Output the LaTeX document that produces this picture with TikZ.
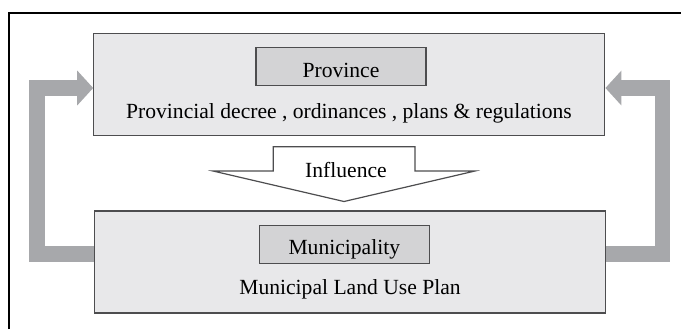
\documentclass[tikz,border=0pt]{standalone}
\usepackage{fontspec}
\setmainfont{Liberation Serif}
\usetikzlibrary{arrows.meta}
\definecolor{boxfill}{HTML}{E8E8EA}
\definecolor{tagfill}{HTML}{D3D3D5}
\definecolor{boxline}{HTML}{4D4D4F}
\definecolor{loopgray}{HTML}{A7A8AB}
\begin{document}
\begin{tikzpicture}[x=0.5pt,y=-0.5pt,
 font=\fontsize{10.8}{12}\selectfont,
 level/.style={draw=boxline, fill=boxfill, line width=0.6pt, minimum width=255.5pt, minimum height=51pt, inner sep=0pt},
 tag/.style={draw=boxline, fill=tagfill, line width=0.6pt, minimum width=85pt, minimum height=19pt, inner sep=0pt, text height=12pt, text depth=1.4pt},
 feedback/.style={draw=loopgray, line width=7.75pt, -{Triangle[length=8pt,width=17pt]}}]
\useasboundingbox (0,0) rectangle (681,329);
\draw[line width=1pt] (8.5,329) -- (8.5,12.5) -- (681,12.5);
\node[level] (prov) at (349.3,84.8) {};
\node[tag] (provtag) at (341,66.7) {Province};
\node[anchor=base] (provtext) at (349,118) {Provincial decree , ordinances , plans \& regulations};
\node[level] (muni) at (349.8,261.9) {};
\node[tag] (munitag) at (344.3,244.3) {Municipality};
\node[anchor=base] (munitext) at (350,294.3) {Municipal Land Use Plan};
% influence arrow
\draw[boxline, fill=white, line width=0.6pt] (273.3,146.7) -- (415,146.7) -- (415,171)
 -- (475,171) -- (344,201.5) -- (213,171) -- (273.3,171) -- cycle;
\node[anchor=base] (infl) at (346,177.7) {Influence};
% feedback loops
\draw[feedback] ([yshift=4pt]muni.west) -- ++(-56.5,0) |- ([yshift=-1.6pt]prov.west);
\draw[feedback] ([yshift=4pt]muni.east) -- ++(56.5,0) |- ([yshift=-1.6pt]prov.east);
\end{tikzpicture}
\end{document}
